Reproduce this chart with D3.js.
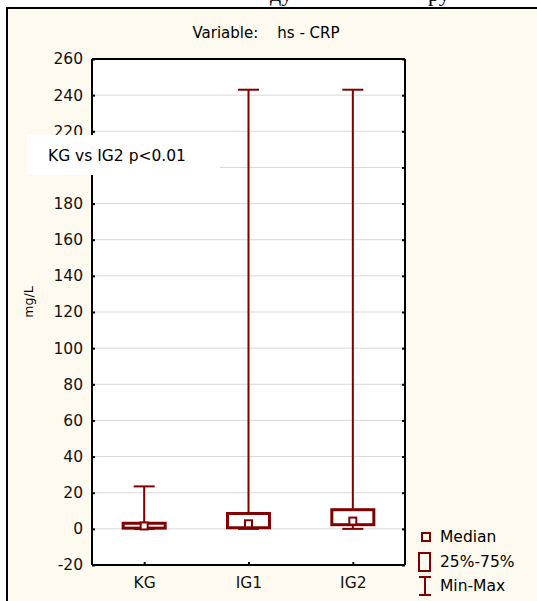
<!DOCTYPE html>
<html>
<head>
<meta charset="utf-8">
<script src="https://cdn.jsdelivr.net/npm/d3@7"></script>
<style>
  body { margin: 0; background: #fff; }
  svg { display: block; font-family: "DejaVu Sans", Verdana, sans-serif; }
</style>
</head>
<body>
<div id="chart"></div>
<script>
// values (mg/L)
const groups = ["KG", "IG1", "IG2"];
const minVals = [0, 0, 0];
const q1Vals = [0.4, 0.6, 2.3];
const medianVals = [1.6, 2.8, 4.3];
const q3Vals = [3.1, 8.5, 10.6];
const maxVals = [23.5, 243, 243];
const yTicks = [-20, 0, 20, 40, 60, 80, 100, 120, 140, 160, 180, 200, 220, 240, 260];
const legendItems = ["Median", "25%-75%", "Min-Max"];

const W = 537, H = 601;
const red = "#800000";
const fs = "15.5px";
const font = "'DejaVu Sans', Verdana, sans-serif";

const svg = d3.select("#chart").append("svg")
    .attr("width", W)
    .attr("height", H);

// cut-off text from the page above the chart
svg.append("text").attr("x", 270).attr("y", 1)
    .style("font-family", "'Liberation Serif', serif").style("font-size", "22px")
    .text("ду");
svg.append("text").attr("x", 428).attr("y", 1)
    .style("font-family", "'Liberation Serif', serif").style("font-size", "22px")
    .text("ру");

// cream panel
svg.append("rect")
    .attr("x", 7).attr("y", 8)
    .attr("width", W - 7).attr("height", H - 8)
    .attr("fill", "#fffaf0");
svg.append("path")
    .attr("d", `M7,${H} V8 H${W}`)
    .attr("fill", "none").attr("stroke", "#000").attr("stroke-width", 2);

const x0 = 92, x1 = 405;
const y0 = 59, y1 = 565;

const x = d3.scalePoint().domain(groups).range([x0, x1]).padding(0.5);
const y = d3.scaleLinear().domain([-20, 260]).range([y1, y0]);

// plot background
svg.append("rect")
    .attr("x", x0).attr("y", y0)
    .attr("width", x1 - x0).attr("height", y1 - y0)
    .attr("fill", "#fff");

// gridlines
svg.append("g").selectAll("line")
    .data(yTicks.filter(d => d > -20 && d < 260))
    .join("line")
    .attr("x1", x0).attr("x2", x1)
    .attr("y1", d => y(d)).attr("y2", d => y(d))
    .attr("stroke", "#d9d9d9").attr("stroke-width", 1);

// title
svg.append("text")
    .attr("x", 266).attr("y", 38)
    .attr("text-anchor", "middle")
    .style("font-size", "15px")
    .style("white-space", "pre")
    .text("Variable:    hs - CRP");

// axes
const yAxisL = svg.append("g")
    .attr("transform", `translate(${x0},0)`)
    .call(d3.axisLeft(y).tickValues(yTicks).tickSize(-3).tickPadding(9)
        .tickFormat(d => d === 200 ? "" : d));
const yAxisR = svg.append("g")
    .attr("transform", `translate(${x1},0)`)
    .call(d3.axisRight(y).tickValues(yTicks).tickSize(-3).tickFormat(""));
const xAxis = svg.append("g")
    .attr("transform", `translate(0,${y1})`)
    .call(d3.axisBottom(x).tickSize(-3).tickPadding(12));
const xTop = svg.append("g")
    .attr("transform", `translate(0,${y0})`)
    .call(d3.axisTop(x).tickSize(0).tickFormat(""));

[yAxisL, yAxisR, xAxis, xTop].forEach(g => {
    g.select(".domain").attr("stroke", "#000").attr("stroke-width", 2)
        .attr("d", g === yAxisL || g === yAxisR ? `M0,${y0}V${y1}` : `M${x0},0H${x1}`);
    g.selectAll(".tick line").attr("stroke", "#000").attr("stroke-width", 2);
    g.selectAll("text").style("font-size", fs).attr("fill", "#111")
        .style("font-family", font);
});
xAxis.selectAll("text").attr("dy", "0.71em");

// y label
svg.append("text")
    .attr("transform", "translate(33,302) rotate(-90)")
    .attr("text-anchor", "middle")
    .style("font-size", "12.5px")
    .text("mg/L");

// boxes
const boxW = 42, capW = 21;
const rows = groups.map((g, i) => ({
    g, min: minVals[i], q1: q1Vals[i], med: medianVals[i], q3: q3Vals[i], max: maxVals[i]
}));

const box = svg.append("g").selectAll("g")
    .data(rows)
    .join("g")
    .attr("transform", d => `translate(${x(d.g)},0)`);

box.append("line")
    .attr("x1", 0).attr("x2", 0)
    .attr("y1", d => y(d.max)).attr("y2", d => y(d.q3))
    .attr("stroke", red).attr("stroke-width", 2);
box.append("line")
    .attr("x1", 0).attr("x2", 0)
    .attr("y1", d => y(d.q1)).attr("y2", d => y(d.min))
    .attr("stroke", red).attr("stroke-width", 2);
box.append("line")
    .attr("x1", -capW / 2).attr("x2", capW / 2)
    .attr("y1", d => y(d.max)).attr("y2", d => y(d.max))
    .attr("stroke", red).attr("stroke-width", 2);
box.append("line")
    .attr("x1", -capW / 2).attr("x2", capW / 2)
    .attr("y1", d => y(d.min)).attr("y2", d => y(d.min))
    .attr("stroke", red).attr("stroke-width", 2);
box.append("rect")
    .attr("x", -boxW / 2).attr("width", boxW)
    .attr("y", d => y(d.q3)).attr("height", d => y(d.q1) - y(d.q3))
    .attr("fill", "none").attr("stroke", red).attr("stroke-width", 3);
box.append("rect")
    .attr("x", -3.5).attr("width", 7)
    .attr("y", d => y(d.med) - 3.5).attr("height", 7)
    .attr("fill", "#fff").attr("stroke", red).attr("stroke-width", 2);

// annotation
svg.append("rect")
    .attr("x", 27).attr("y", 135)
    .attr("width", 193).attr("height", 40)
    .attr("fill", "#fff");
svg.append("text")
    .attr("x", 48).attr("y", 161)
    .style("font-size", fs)
    .text("KG vs IG2 p<0.01");

// legend
const lg = svg.append("g").attr("transform", "translate(418,0)");
const legY = [537, 562, 586];
lg.append("rect").attr("x", 4).attr("y", legY[0] - 4).attr("width", 8).attr("height", 8)
    .attr("fill", "none").attr("stroke", red).attr("stroke-width", 2);
lg.append("rect").attr("x", 1).attr("y", legY[1] - 9).attr("width", 11).attr("height", 18)
    .attr("fill", "none").attr("stroke", red).attr("stroke-width", 2);
lg.append("path")
    .attr("d", `M1,${legY[2] - 9}H13M7,${legY[2] - 9}V${legY[2] + 9}M1,${legY[2] + 9}H13`)
    .attr("fill", "none").attr("stroke", red).attr("stroke-width", 2);
lg.selectAll("text.leg")
    .data(legendItems)
    .join("text")
    .attr("class", "leg")
    .attr("x", 22).attr("y", (d, i) => legY[i])
    .attr("dy", "0.35em")
    .style("font-size", fs)
    .text(d => d);
</script>
</body>
</html>
